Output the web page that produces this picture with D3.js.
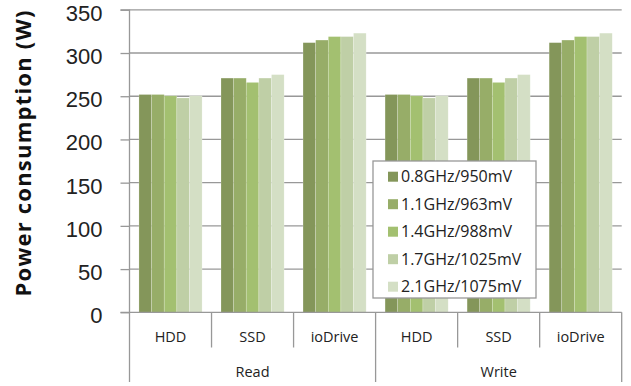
<!DOCTYPE html>
<html><head><meta charset="utf-8">
<script src="https://cdn.jsdelivr.net/npm/d3@7"></script>
<style>body{margin:0;background:#fff}svg{display:block}</style>
</head><body>
<svg id="c" width="631" height="386"></svg>
<script>
const groups = ["Read", "Write"];
const devices = ["HDD", "SSD", "ioDrive"];
const seriesNames = ["0.8GHz/950mV", "1.1GHz/963mV", "1.4GHz/988mV", "1.7GHz/1025mV", "2.1GHz/1075mV"];
const seriesColors = ["#84965a", "#97ad68", "#a3c070", "#bfcfa6", "#d4dfc5"];
// values per series, in order Read HDD, Read SSD, Read ioDrive, Write HDD, Write SSD, Write ioDrive
const s08 = [252, 271, 312, 252, 271, 312];
const s11 = [252, 271, 315, 252, 271, 315];
const s14 = [250.5, 266, 319, 250.5, 266, 319];
const s17 = [248, 271, 319, 248, 271, 319];
const s21 = [250.5, 275, 323, 250.5, 275, 323];
const seriesValues = [s08, s11, s14, s17, s21];
const yTicks = [0, 50, 100, 150, 200, 250, 300, 350];

const svg = d3.select("#c");
const L = 129.5, R = 621.7, T = 9.8, B = 312.3;
const cats = [];
groups.forEach(g => devices.forEach(d => cats.push(g + "|" + d)));

const x0 = d3.scaleBand().domain(cats).range([L, R]).padding(0);
const x1 = d3.scaleBand().domain(seriesNames).range([0, x0.bandwidth()]).paddingInner(0).paddingOuter(0.75);
const y = d3.scaleLinear().domain([0, 350]).range([B, T]);
const grey = "#989898";

// gridlines
svg.append("g").selectAll("line").data(yTicks.filter(t => t > 0)).join("line")
  .attr("x1", L).attr("x2", R).attr("y1", d => y(d)).attr("y2", d => y(d))
  .attr("stroke", grey).attr("stroke-width", 1.3);

// bars
const bars = svg.append("g");
seriesValues.forEach((vals, si) => {
  bars.append("g").selectAll("rect").data(vals).join("rect")
    .attr("x", (d, i) => x0(cats[i]) + x1(seriesNames[si]))
    .attr("width", x1.bandwidth())
    .attr("y", d => y(d))
    .attr("height", d => B - y(d))
    .attr("fill", seriesColors[si])
    .attr("stroke", "rgba(255,255,255,0.35)").attr("stroke-width", 0.6);
});

// y axis
const yAxis = d3.axisLeft(y).tickValues(yTicks).tickSize(9).tickPadding(18);
const ya = svg.append("g").attr("transform", `translate(${L},0)`).call(yAxis);
ya.select(".domain").attr("stroke", grey).attr("stroke-width", 1.3).attr("d", `M-9,${T}H0V${B}`);
ya.selectAll(".tick line").attr("stroke", grey).attr("stroke-width", 1.3);
ya.selectAll(".tick text").attr("font-family", "Liberation Sans").attr("font-size", 22).attr("fill", "#222")
  .attr("dy", "0.47em");

// x axis baseline
svg.append("line").attr("x1", L - 9).attr("x2", R).attr("y1", B).attr("y2", B)
  .attr("stroke", grey).attr("stroke-width", 1.3);

// category separators
const sepInner = [];
const sepOuter = [L, R];
cats.forEach((c, i) => { if (i > 0) { if (i % devices.length === 0) sepOuter.push(x0(c)); else sepInner.push(x0(c)); } });
svg.append("g").selectAll("line").data(sepInner).join("line")
  .attr("x1", d => d).attr("x2", d => d).attr("y1", B).attr("y2", 347.5)
  .attr("stroke", grey).attr("stroke-width", 1.3);
svg.append("g").selectAll("line").data(sepOuter).join("line")
  .attr("x1", d => d).attr("x2", d => d).attr("y1", B).attr("y2", 382)
  .attr("stroke", grey).attr("stroke-width", 1.3);

// category labels
svg.append("g").selectAll("text").data(cats).join("text")
  .attr("x", d => x0(d) + x0.bandwidth() / 2).attr("y", 342)
  .attr("text-anchor", "middle").attr("font-family", "Open Sans").attr("font-size", 14.5).attr("fill", "#222")
  .text(d => d.split("|")[1]);
svg.append("g").selectAll("text").data(groups).join("text")
  .attr("x", g => (x0(g + "|" + devices[0]) + x0(g + "|" + devices[devices.length - 1]) + x0.bandwidth()) / 2)
  .attr("y", 377).attr("text-anchor", "middle").attr("font-family", "Open Sans").attr("font-size", 14.5).attr("fill", "#222")
  .text(g => g);

// y label
svg.append("text").attr("transform", "translate(31,153.5) rotate(-90)")
  .attr("text-anchor", "middle").attr("font-family", "Open Sans").attr("font-weight", "bold")
  .attr("font-size", 22).attr("textLength", 286).attr("lengthAdjust", "spacing")
  .attr("fill", "#111").text("Power consumption (W)");

// legend
const lg = svg.append("g");
lg.append("rect").attr("x", 373).attr("y", 161).attr("width", 163).attr("height", 137)
  .attr("fill", "#fff").attr("stroke", grey).attr("stroke-width", 1.3);
const items = lg.selectAll("g.item").data(seriesNames).join("g").attr("class", "item")
  .attr("transform", (d, i) => `translate(0,${176.7 + i * 27.5})`);
items.append("rect").attr("x", 388).attr("y", -5).attr("width", 10).attr("height", 10)
  .attr("fill", (d, i) => seriesColors[i]);
items.append("text").attr("x", 401).attr("y", 0).attr("dy", "0.36em")
  .attr("font-family", "Open Sans").attr("font-size", 16).attr("fill", "#222").text(d => d);
</script>
</body></html>
